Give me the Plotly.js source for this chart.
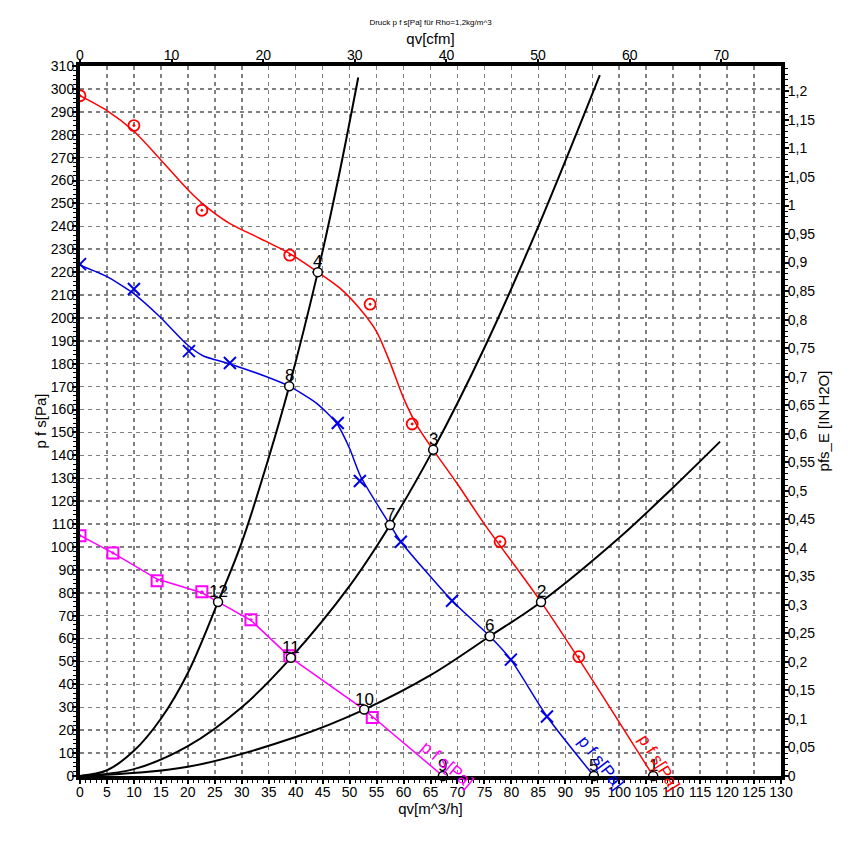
<!DOCTYPE html>
<html>
<head>
<meta charset="utf-8">
<script src="https://cdn.plot.ly/plotly-3.0.1.min.js"></script>
<style>html,body{margin:0;padding:0;background:#fff;}#chart{width:861px;height:849px;}</style>
</head>
<body>
<div id="chart"></div>
<script>
// ---- Data ----
// Fan curve "p f s" (red), high speed: smooth line and measured points
const redLineX = [0, 5, 10, 15, 20, 23.5, 27.8, 33.4, 38.9, 44.1, 48.2, 51.9, 55, 57.5, 60, 62.5, 65.5, 70, 75, 85.5, 95, 106.3];
const redLineY = [297, 290.5, 281.5, 269, 256, 248.4, 241.2, 234.7, 228.1, 220, 213, 204, 194, 180.5, 165, 153, 142.4, 127.5, 110, 76, 42, 0];
const redPtsX = [0, 10, 22.6, 38.9, 53.8, 61.6, 77.9, 92.5];
const redPtsY = [297, 284, 247, 227.4, 206, 153.7, 102.3, 52.1];

// Fan curve (blue), medium speed
const blueLineX = [0, 5, 9.9, 14.8, 19.8, 22.8, 27.8, 34.6, 38.8, 43.9, 47.6, 50, 52, 57.5, 59.5, 69, 76, 79.9, 86.6, 95.3];
const blueLineY = [223, 218, 210.7, 200.5, 188.5, 183.5, 179.9, 174.3, 170.2, 162.7, 154, 143, 131, 109.6, 102.3, 76.5, 61, 50.8, 26, 0];
const bluePtsX = [0, 10, 20.2, 27.8, 47.8, 51.9, 59.5, 69, 79.9, 86.6];
const bluePtsY = [223.5, 212.6, 185.5, 180.3, 154.1, 128.8, 102.3, 76.5, 50.8, 26];

// Fan curve (magenta), low speed
const magLineX = [0, 6.1, 14.3, 22.6, 25.6, 31.7, 39.1, 52.7, 54.2, 67.3];
const magLineY = [105, 97.4, 86, 80, 76, 68, 51.6, 29, 26, 0];
const magPtsX = [0, 6.1, 14.3, 22.6, 31.7, 38.9, 54.2];
const magPtsY = [104.9, 97.4, 85.2, 80.4, 68.2, 52.5, 25.5];

// System resistance curves (black)
const sysAX = [0, 5, 10, 15, 20, 25.6, 30, 35, 38.8, 44.1, 48, 51.6];
const sysAY = [0, 2.5, 11, 25, 45, 76, 102, 139, 170.2, 220, 262, 305];
const sysBX = [0, 10, 20, 30, 39.1, 50, 57.5, 65.5, 75, 85, 96.4];
const sysBY = [0, 3, 13, 30, 51.6, 83, 109.6, 142.4, 187, 240, 306];
const sysCX = [0, 20, 40, 52.7, 65, 76, 85.5, 100, 110, 118.7];
const sysCY = [0, 4, 17, 29, 44, 61, 76, 104, 126, 146];

// Operating points 1..12
const opLabels = ["1", "2", "3", "4", "5", "6", "7", "8", "9", "10", "11", "12"];
const opX = [106.3, 85.5, 65.5, 44.1, 95.3, 76, 57.5, 38.8, 67.3, 52.7, 39.1, 25.6];
const opY = [0, 76, 142.4, 220, 0, 61, 109.6, 170.2, 0, 29, 51.6, 76];

// Curve labels
const curveLabelText = ["p f s[Pa]", "p f s[Pa]", "p f s[Pa]"];

// Axis ranges
const xMax = 130;          // m^3/h
const yMax = 310;          // Pa
const cfmPerM3h = 1 / 1.699;
const inH2OPerPa = 1 / 249.09;

const RED = '#ff0000', BLUE = '#0000e6', MAG = '#ff00ff';
const FONT = 'Liberation Sans, Arial, sans-serif';

const traces = [
  {x: sysAX, y: sysAY, mode: 'lines', line: {color: '#000', width: 2, shape: 'spline'}, hoverinfo: 'skip'},
  {x: sysBX, y: sysBY, mode: 'lines', line: {color: '#000', width: 2, shape: 'spline'}, hoverinfo: 'skip'},
  {x: sysCX, y: sysCY, mode: 'lines', line: {color: '#000', width: 2, shape: 'spline'}, hoverinfo: 'skip'},
  {x: redLineX, y: redLineY, mode: 'lines', line: {color: RED, width: 1.5, shape: 'spline', smoothing: 0.7}},
  {x: redPtsX, y: redPtsY, mode: 'markers', marker: {symbol: 'circle-open-dot', size: 11, color: RED, line: {width: 1.8, color: RED}}},
  {x: blueLineX, y: blueLineY, mode: 'lines', line: {color: BLUE, width: 1.5, shape: 'spline', smoothing: 0.6}},
  {x: bluePtsX, y: bluePtsY, mode: 'markers', marker: {symbol: 'x-thin', size: 12, color: BLUE, line: {width: 2, color: BLUE}}},
  {x: magLineX, y: magLineY, mode: 'lines', line: {color: MAG, width: 1.5}},
  {x: magPtsX, y: magPtsY, mode: 'markers', marker: {symbol: 'square-open-dot', size: 11, color: MAG, line: {width: 2, color: MAG}}},
  {x: opX, y: opY, mode: 'markers',
   marker: {symbol: 'circle', size: 9, color: '#fff', line: {width: 1.5, color: '#000'}}, cliponaxis: false},
  // invisible traces to activate secondary axes
  {x: [0, xMax * cfmPerM3h], y: [0, 0], xaxis: 'x2', yaxis: 'y', mode: 'markers', marker: {opacity: 0}, hoverinfo: 'skip'},
  {x: [0, 0], y: [0, yMax * inH2OPerPa], xaxis: 'x', yaxis: 'y2', mode: 'markers', marker: {opacity: 0}, hoverinfo: 'skip'}
];

const axFont = {family: FONT, size: 14, color: '#000'};
const gridStyle = {showgrid: true, gridcolor: '#808080', gridwidth: 1.5, griddash: '4px,4px'};

// operating-point number labels, built from the point arrays
const opAnnotations = opLabels.map((t, i) => ({
  x: opX[i], y: opY[i], xref: 'x', yref: 'y', text: t, showarrow: false,
  yanchor: 'bottom', yshift: -1, font: {family: FONT, size: 17, color: '#000'}
}));

const layout = {
  width: 861, height: 849,
  margin: {l: 80, r: 80, t: 66, b: 73},
  paper_bgcolor: '#fff', plot_bgcolor: '#fff',
  showlegend: false,
  separators: ',.',
  font: {family: FONT, color: '#000'},
  title: {text: 'Druck p f s[Pa] für Rho=1,2kg/m^3', font: {family: FONT, size: 8, color: '#000'},
          x: 0.5, xref: 'paper', xanchor: 'center', y: 1 - 22 / 849, yref: 'container', yanchor: 'middle'},
  xaxis: Object.assign({
    range: [0, xMax], dtick: 5, tick0: 0, zeroline: false,
    showline: true, linecolor: '#000', linewidth: 4,
    ticks: 'outside', ticklen: 4, tickwidth: 2, tickcolor: '#000', ticklabelstandoff: -4,
    minor: {ticks: 'outside', dtick: 1, ticklen: 3, tickwidth: 1, tickcolor: '#000', showgrid: false},
    tickfont: axFont, tickangle: 0,
    title: {text: 'qv[m^3/h]', font: {family: FONT, size: 15, color: '#000'}, standoff: 0}
  }, gridStyle),
  xaxis2: {
    overlaying: 'x', side: 'top', range: [0, xMax * cfmPerM3h], dtick: 10, tick0: 0,
    showgrid: false, zeroline: false,
    showline: true, linecolor: '#000', linewidth: 4,
    ticks: 'outside', ticklen: 3, tickwidth: 2, tickcolor: '#000', ticklabelstandoff: -7,
    tickfont: axFont,
    title: {text: 'qv[cfm]', font: {family: FONT, size: 15, color: '#000'}, standoff: 0}
  },
  yaxis: Object.assign({
    range: [0, yMax], dtick: 10, tick0: 0, zeroline: false,
    showline: true, linecolor: '#000', linewidth: 4,
    ticks: 'outside', ticklen: 4, tickwidth: 2, tickcolor: '#000', ticklabelstandoff: -5,
    minor: {ticks: 'outside', dtick: 2, ticklen: 3, tickwidth: 1, tickcolor: '#000', showgrid: false},
    tickfont: axFont,
    title: {text: 'p f s[Pa]', font: {family: FONT, size: 15, color: '#000'}, standoff: 2}
  }, gridStyle),
  yaxis2: {
    overlaying: 'y', side: 'right', range: [0, yMax * inH2OPerPa], dtick: 0.05, tick0: 0,
    showgrid: false, zeroline: false,
    showline: true, linecolor: '#000', linewidth: 4,
    ticks: 'outside', ticklen: 4, tickwidth: 2, tickcolor: '#000', ticklabelstandoff: -4,
    minor: {ticks: 'outside', dtick: 0.01, ticklen: 3, tickwidth: 1, tickcolor: '#000', showgrid: false},
    tickfont: axFont,
    title: {text: 'pfs_E [IN H2O]', font: {family: FONT, size: 15, color: '#000'}, standoff: 0}
  },
  annotations: opAnnotations.concat([
    {x: 107.4, y: 6, xref: 'x', yref: 'y', text: curveLabelText[0], showarrow: false, textangle: 58,
     font: {family: FONT, size: 17, color: RED}},
    {x: 96.6, y: 6, xref: 'x', yref: 'y', text: curveLabelText[1], showarrow: false, textangle: 52,
     font: {family: FONT, size: 17, color: BLUE}},
    {x: 68, y: 5, xref: 'x', yref: 'y', text: curveLabelText[2], showarrow: false, textangle: 40,
     font: {family: FONT, size: 17, color: MAG}}
  ])
};

Plotly.newPlot('chart', traces, layout, {displayModeBar: false, staticPlot: true});
</script>
</body>
</html>
